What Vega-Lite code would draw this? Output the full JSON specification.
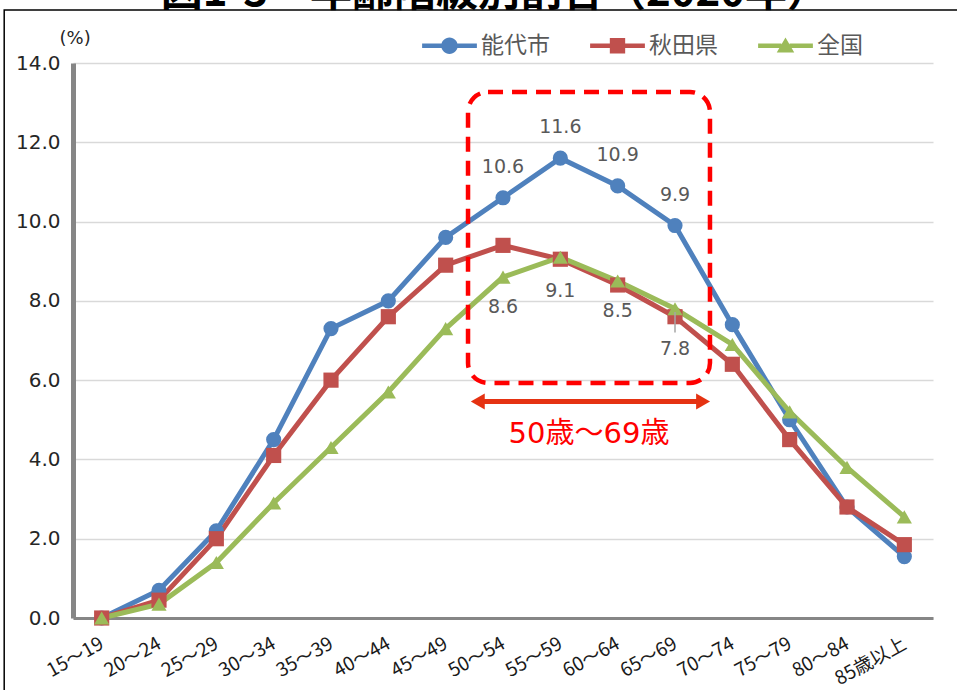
{
  "$schema": "https://vega.github.io/schema/vega-lite/v6.json",
  "width": 860,
  "height": 555,
  "autosize": "none",
  "padding": {"left": 73, "top": 63, "right": 24, "bottom": 72},
  "background": "white",
  "config": {"view": {"stroke": null}},
  "resolve": {"scale": {"x": "independent", "y": "independent"}},
  "layer": [
    {
      "data": {"values": [
        {"age": "15～19", "series": "能代市", "value": 0.0},
        {"age": "20～24", "series": "能代市", "value": 0.7},
        {"age": "25～29", "series": "能代市", "value": 2.2},
        {"age": "30～34", "series": "能代市", "value": 4.5},
        {"age": "35～39", "series": "能代市", "value": 7.3},
        {"age": "40～44", "series": "能代市", "value": 8.0},
        {"age": "45～49", "series": "能代市", "value": 9.6},
        {"age": "50～54", "series": "能代市", "value": 10.6},
        {"age": "55～59", "series": "能代市", "value": 11.6},
        {"age": "60～64", "series": "能代市", "value": 10.9},
        {"age": "65～69", "series": "能代市", "value": 9.9},
        {"age": "70～74", "series": "能代市", "value": 7.4},
        {"age": "75～79", "series": "能代市", "value": 5.0},
        {"age": "80～84", "series": "能代市", "value": 2.8},
        {"age": "85歳以上", "series": "能代市", "value": 1.55},
        {"age": "15～19", "series": "秋田県", "value": 0.0},
        {"age": "20～24", "series": "秋田県", "value": 0.45},
        {"age": "25～29", "series": "秋田県", "value": 2.0},
        {"age": "30～34", "series": "秋田県", "value": 4.1},
        {"age": "35～39", "series": "秋田県", "value": 6.0},
        {"age": "40～44", "series": "秋田県", "value": 7.6},
        {"age": "45～49", "series": "秋田県", "value": 8.9},
        {"age": "50～54", "series": "秋田県", "value": 9.4},
        {"age": "55～59", "series": "秋田県", "value": 9.05},
        {"age": "60～64", "series": "秋田県", "value": 8.4},
        {"age": "65～69", "series": "秋田県", "value": 7.6},
        {"age": "70～74", "series": "秋田県", "value": 6.4},
        {"age": "75～79", "series": "秋田県", "value": 4.5},
        {"age": "80～84", "series": "秋田県", "value": 2.8},
        {"age": "85歳以上", "series": "秋田県", "value": 1.85},
        {"age": "15～19", "series": "全国", "value": 0.0},
        {"age": "20～24", "series": "全国", "value": 0.35},
        {"age": "25～29", "series": "全国", "value": 1.4},
        {"age": "30～34", "series": "全国", "value": 2.9},
        {"age": "35～39", "series": "全国", "value": 4.3},
        {"age": "40～44", "series": "全国", "value": 5.7},
        {"age": "45～49", "series": "全国", "value": 7.3},
        {"age": "50～54", "series": "全国", "value": 8.6},
        {"age": "55～59", "series": "全国", "value": 9.1},
        {"age": "60～64", "series": "全国", "value": 8.5},
        {"age": "65～69", "series": "全国", "value": 7.8},
        {"age": "70～74", "series": "全国", "value": 6.9},
        {"age": "75～79", "series": "全国", "value": 5.2},
        {"age": "80～84", "series": "全国", "value": 3.8},
        {"age": "85歳以上", "series": "全国", "value": 2.55}
      ]},
      "encoding": {
        "x": {
          "field": "age", "type": "ordinal",
          "sort": ["15～19","20～24","25～29","30～34","35～39","40～44","45～49","50～54","55～59","60～64","65～69","70～74","75～79","80～84","85歳以上"],
          "scale": {"type": "point", "padding": 0.5},
          "axis": {"title": null, "labelAngle": -29, "labelAlign": "right", "labelBaseline": "middle", "labelPadding": 24, "labelFont": "Noto Sans CJK JP", "labelFontSize": 19, "labelColor": "#1a1a1a", "ticks": false, "grid": false, "domainColor": "#868686", "domainWidth": 3, "labelOverlap": false}
        },
        "y": {
          "field": "value", "type": "quantitative",
          "scale": {"domain": [0, 14], "nice": false},
          "axis": {"title": "(%)", "titleAngle": 0, "titleX": -14, "titleY": -25, "titleAlign": "left", "titleBaseline": "middle", "titleFont": "DejaVu Sans", "titleFontSize": 18, "titleFontWeight": "normal", "titleColor": "#262626",
                   "values": [0, 2, 4, 6, 8, 10, 12, 14], "format": ".1f", "labelFont": "DejaVu Sans", "labelFontSize": 20, "labelColor": "#262626", "labelPadding": 13, "ticks": false, "domainColor": "#868686", "domainWidth": 5, "gridColor": "#D9D9D9", "gridWidth": 1.5}
        }
      },
      "layer": [
        {
          "mark": {"type": "line", "strokeWidth": 5},
          "encoding": {
            "color": {
              "field": "series", "type": "nominal",
              "scale": {"domain": ["能代市", "秋田県", "全国"], "range": ["#4F81BD", "#C0504D", "#9BBB59"]},
              "legend": {
                "title": null, "orient": "none", "direction": "horizontal", "legendX": 349, "legendY": -45, "padding": 0,
                "symbolSize": 3000, "labelFont": "Noto Sans CJK JP", "labelFontSize": 23, "labelColor": "#595959", "labelOffset": 4, "columnPadding": 40,
                "encode": {"symbols": {"update": {
                  "shape": {"signal": "datum.value === '能代市' ? 'M-1,-0.085L-0.28,-0.085L-0.28,0.085L-1,0.085Z M0.28,-0.085L1,-0.085L1,0.085L0.28,0.085Z M-0.3,0A0.3,0.3,0,1,1,0.3,0A0.3,0.3,0,1,1,-0.3,0Z' : datum.value === '秋田県' ? 'M-1,-0.085L-0.27,-0.085L-0.27,0.085L-1,0.085Z M0.27,-0.085L1,-0.085L1,0.085L0.27,0.085Z M-0.28,-0.28L0.28,-0.28L0.28,0.28L-0.28,0.28Z' : 'M-1,-0.085L-0.15,-0.085L-0.15,0.085L-1,0.085Z M0.15,-0.085L1,-0.085L1,0.085L0.15,0.085Z M0,-0.3L0.32,0.25L-0.32,0.25Z'"},
                  "fill": {"scale": "color", "field": "value"},
                  "stroke": {"value": "transparent"},
                  "strokeWidth": {"value": 0},
                  "opacity": {"value": 1}
                }}}
              }
            }
          }
        },
        {
          "mark": {"type": "point", "filled": true, "opacity": 1, "size": 230},
          "encoding": {
            "color": {"field": "series", "type": "nominal", "legend": null},
            "shape": {"field": "series", "type": "nominal", "scale": {"domain": ["能代市", "秋田県", "全国", "-"], "range": ["circle", "square", "triangle-up", "circle"]}, "legend": null}
          }
        },
        {
          "transform": [{"filter": {"and": [{"field": "series", "equal": "能代市"}, {"field": "age", "oneOf": ["50～54", "55～59", "60～64", "65～69"]}]}}],
          "mark": {"type": "text", "dy": -31, "font": "DejaVu Sans", "fontSize": 19, "color": "#595959"},
          "encoding": {"text": {"field": "value", "type": "quantitative", "format": ".1f"}}
        },
        {
          "transform": [{"filter": {"and": [{"field": "series", "equal": "全国"}, {"field": "age", "oneOf": ["50～54", "60～64"]}]}}],
          "mark": {"type": "text", "dy": 30, "font": "DejaVu Sans", "fontSize": 19, "color": "#595959"},
          "encoding": {"text": {"field": "value", "type": "quantitative", "format": ".1f"}}
        },
        {
          "transform": [{"filter": {"and": [{"field": "series", "equal": "全国"}, {"field": "age", "equal": "55～59"}]}}],
          "mark": {"type": "text", "dy": 34, "font": "DejaVu Sans", "fontSize": 19, "color": "#595959"},
          "encoding": {"text": {"field": "value", "type": "quantitative", "format": ".1f"}}
        },
        {
          "transform": [{"filter": {"and": [{"field": "series", "equal": "全国"}, {"field": "age", "equal": "65～69"}]}}],
          "mark": {"type": "text", "dy": 40, "font": "DejaVu Sans", "fontSize": 19, "color": "#595959"},
          "encoding": {"text": {"field": "value", "type": "quantitative", "format": ".1f"}}
        }
      ]
    },
    {
      "layer": [
        {
          "data": {"values": [{"x": -1.2, "x2": 17, "y": 15.34, "y2": -4}]},
          "mark": {"type": "rect", "fill": null, "stroke": "#000000", "strokeWidth": 1.5},
          "encoding": {
            "x": {"field": "x", "type": "quantitative", "scale": {"domain": [0, 15], "nice": false, "zero": false}, "axis": null},
            "x2": {"field": "x2"},
            "y": {"field": "y", "type": "quantitative", "scale": {"domain": [0, 14], "nice": false, "zero": false}, "axis": null},
            "y2": {"field": "y2"}
          }
        },
        {
          "data": {"values": [{"x": 7.36, "y": 15.44, "label": "図1-3　年齢階級別割合（2020年）"}]},
          "mark": {"type": "text", "font": "Noto Sans CJK JP", "fontSize": 42, "fontWeight": "bold", "color": "#000000", "align": "center", "baseline": "alphabetic"},
          "encoding": {
            "x": {"field": "x", "type": "quantitative", "axis": null},
            "y": {"field": "y", "type": "quantitative", "axis": null},
            "text": {"field": "label"}
          }
        },
        {
          "data": {"values": [{"x": 6.89, "x2": 11.11, "y": 13.27, "y2": 5.93}]},
          "mark": {"type": "rect", "fill": null, "stroke": "#FF0000", "strokeWidth": 4.5, "strokeDash": [15, 9], "cornerRadius": 20},
          "encoding": {
            "x": {"field": "x", "type": "quantitative", "axis": null},
            "x2": {"field": "x2"},
            "y": {"field": "y", "type": "quantitative", "axis": null},
            "y2": {"field": "y2"}
          }
        },
        {
          "data": {"values": [{"x": 7.1, "x2": 10.95, "y": 5.46}]},
          "mark": {"type": "rule", "color": "#E53212", "strokeWidth": 5},
          "encoding": {
            "x": {"field": "x", "type": "quantitative", "axis": null},
            "x2": {"field": "x2"},
            "y": {"field": "y", "type": "quantitative", "axis": null}
          }
        },
        {
          "data": {"values": [{"x": 7.06, "y": 5.46}]},
          "mark": {"type": "point", "filled": true, "opacity": 1, "color": "#E53212", "size": 260, "shape": "triangle-left"},
          "encoding": {
            "x": {"field": "x", "type": "quantitative", "axis": null},
            "y": {"field": "y", "type": "quantitative", "axis": null}
          }
        },
        {
          "data": {"values": [{"x": 10.99, "y": 5.46}]},
          "mark": {"type": "point", "filled": true, "opacity": 1, "color": "#E53212", "size": 260, "shape": "triangle-right"},
          "encoding": {
            "x": {"field": "x", "type": "quantitative", "axis": null},
            "y": {"field": "y", "type": "quantitative", "axis": null}
          }
        },
        {
          "data": {"values": [{"x": 9.0, "y": 4.64, "label": "50歳～69歳"}]},
          "mark": {"type": "text", "font": "DejaVu Sans, Noto Sans CJK JP", "fontSize": 29, "color": "#FF0000", "align": "center", "baseline": "middle"},
          "encoding": {
            "x": {"field": "x", "type": "quantitative", "axis": null},
            "y": {"field": "y", "type": "quantitative", "axis": null},
            "text": {"field": "label"}
          }
        },
        {
          "data": {"values": [{"x": 10.5, "y": 7.72, "y2": 7.2}]},
          "mark": {"type": "rule", "color": "#A6A6A6", "strokeWidth": 1.5},
          "encoding": {
            "x": {"field": "x", "type": "quantitative", "axis": null},
            "y": {"field": "y", "type": "quantitative", "axis": null},
            "y2": {"field": "y2"}
          }
        }
      ]
    }
  ]
}
